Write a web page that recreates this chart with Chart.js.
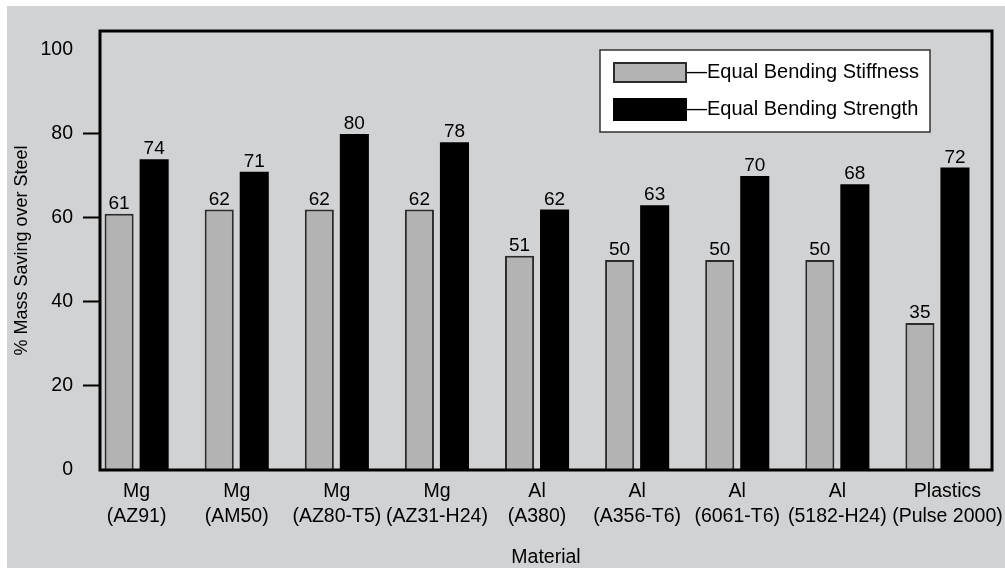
<!DOCTYPE html>
<html>
<head>
<meta charset="utf-8">
<title>Mass saving over steel</title>
<script src="https://cdn.jsdelivr.net/npm/chart.js@4.4.1/dist/chart.umd.min.js"></script>
<style>
  html, body { margin: 0; padding: 0; background: #ffffff; }
  #wrap { position: absolute; left: 7px; top: 6px; width: 998px; height: 562px; background: #d1d2d4; }
  canvas { display: block; }
</style>
</head>
<body>
<div id="wrap"><canvas id="chart" width="998" height="562"></canvas></div>
<script>
// Materials compared (two-line axis labels)
const materials = [
  ['Mg', '(AZ91)'],
  ['Mg', '(AM50)'],
  ['Mg', '(AZ80-T5)'],
  ['Mg', '(AZ31-H24)'],
  ['Al', '(A380)'],
  ['Al', '(A356-T6)'],
  ['Al', '(6061-T6)'],
  ['Al', '(5182-H24)'],
  ['Plastics', '(Pulse 2000)']
];

// % mass saving over steel
const stiffness = [61, 62, 62, 62, 51, 50, 50, 50, 35];
const strength  = [74, 71, 80, 78, 62, 63, 70, 68, 72];

const seriesNames = ['Equal Bending Stiffness', 'Equal Bending Strength'];
const yTickStep = 20;

const FONT = "'Liberation Sans', Arial, Helvetica, sans-serif";
Chart.defaults.font.family = FONT;
Chart.defaults.color = '#000000';

// Axis ranges
const X_MIN = -0.366, X_MAX = 8.545;
const Y_MIN = 0, Y_MAX = 104.5;

// Frame around the plot area
const framePlugin = {
  id: 'frame',
  afterDatasetsDraw(chart) {
    const { ctx, chartArea: a } = chart;
    ctx.save();
    ctx.strokeStyle = '#000';
    ctx.lineWidth = 3;
    ctx.strokeRect(a.left, a.top, a.right - a.left, a.bottom - a.top);
    ctx.restore();
  }
};

// Value written above each bar
const valueLabels = {
  id: 'valueLabels',
  afterDatasetsDraw(chart) {
    const { ctx } = chart;
    ctx.save();
    ctx.font = '19px ' + FONT;
    ctx.fillStyle = '#000';
    ctx.textAlign = 'center';
    ctx.textBaseline = 'alphabetic';
    chart.data.datasets.forEach((ds, di) => {
      const meta = chart.getDatasetMeta(di);
      meta.data.forEach((bar, i) => {
        ctx.fillText(String(ds.data[i].y), bar.x, bar.y - 5);
      });
    });
    ctx.restore();
  }
};

// Boxed legend in the upper right of the plot
const boxLegend = {
  id: 'boxLegend',
  afterDatasetsDraw(chart) {
    const { ctx, chartArea: a } = chart;
    const bx = a.right - 392, by = a.top + 19, bw = 330, bh = 82;
    ctx.save();
    ctx.fillStyle = '#fff';
    ctx.fillRect(bx, by, bw, bh);
    ctx.strokeStyle = '#333';
    ctx.lineWidth = 1.5;
    ctx.strokeRect(bx, by, bw, bh);
    const rows = [by + 12, by + 48];
    const heights = [21, 23];
    chart.data.datasets.forEach((ds, i) => {
      const sx = bx + 13, sy = rows[i], sw = 74, sh = heights[i];
      ctx.fillStyle = ds.backgroundColor;
      ctx.fillRect(sx, sy, sw, sh);
      ctx.strokeStyle = ds.borderColor;
      ctx.lineWidth = 2;
      ctx.strokeRect(sx + 1, sy + 1, sw - 2, sh - 2);
      ctx.fillStyle = '#000';
      ctx.font = '20px ' + FONT;
      ctx.textAlign = 'left';
      ctx.textBaseline = 'middle';
      ctx.fillText('\u2014' + ds.label, sx + sw, sy + sh / 2);
    });
    ctx.restore();
  }
};

new Chart(document.getElementById('chart'), {
  type: 'bar',
  data: {
    datasets: [
      {
        label: seriesNames[0],
        data: stiffness.map((y, i) => ({ x: i, y })),
        backgroundColor: '#b3b3b3',
        borderColor: '#2b2b2b',
        borderWidth: 2
      },
      {
        label: seriesNames[1],
        data: strength.map((y, i) => ({ x: i, y })),
        backgroundColor: '#000000',
        borderColor: '#000000',
        borderWidth: 0
      }
    ]
  },
  options: {
    responsive: false,
    animation: false,
    categoryPercentage: 0.7,
    barPercentage: 0.83,
    layout: { padding: { left: 0, top: 25, right: 13, bottom: 0 } },
    plugins: {
      legend: { display: false },
      tooltip: { enabled: false }
    },
    scales: {
      x: {
        type: 'linear',
        min: X_MIN,
        max: X_MAX,
        bounds: 'data',
        offset: false,
        grid: { display: false, drawTicks: false, offset: false },
        border: { display: false },
        // one tick per material at each group's centre; the last, widest
        // label is nudged right so it clears its neighbour
        afterBuildTicks: s => {
          s.ticks = materials.map((_, i) => ({ value: i === materials.length - 1 ? i + 0.1 : i }));
        },
        ticks: {
          autoSkip: false,
          maxRotation: 0,
          padding: 9,
          font: { size: 19.5, lineHeight: 1.28 },
          callback: v => materials[Math.round(v)] || ''
        },
        title: {
          display: true,
          text: 'Material',
          font: { size: 19.5, lineHeight: 1 },
          padding: { top: 0, bottom: 1 }
        },
        // labels may overhang the plot edges; keep the plot width fixed
        afterFit: s => { s.height = 98; s.paddingLeft = 0; s.paddingRight = 0; }
      },
      y: {
        min: Y_MIN,
        max: Y_MAX,
        grid: {
          drawOnChartArea: false,
          tickLength: 17,
          tickWidth: 2,
          tickColor: c => (c.tick && (c.tick.value === 0 || c.tick.value === 100)) ? 'rgba(0,0,0,0)' : '#000'
        },
        border: { display: false },
        ticks: {
          stepSize: yTickStep,
          includeBounds: false,
          padding: 10,
          font: { size: 19.5 }
        },
        title: {
          display: true,
          text: '% Mass Saving over Steel',
          font: { size: 18 },
          padding: { top: 4, bottom: 0 }
        },
        afterFit: s => { s.width = 93; }
      }
    }
  },
  plugins: [framePlugin, valueLabels, boxLegend]
});
</script>
</body>
</html>
